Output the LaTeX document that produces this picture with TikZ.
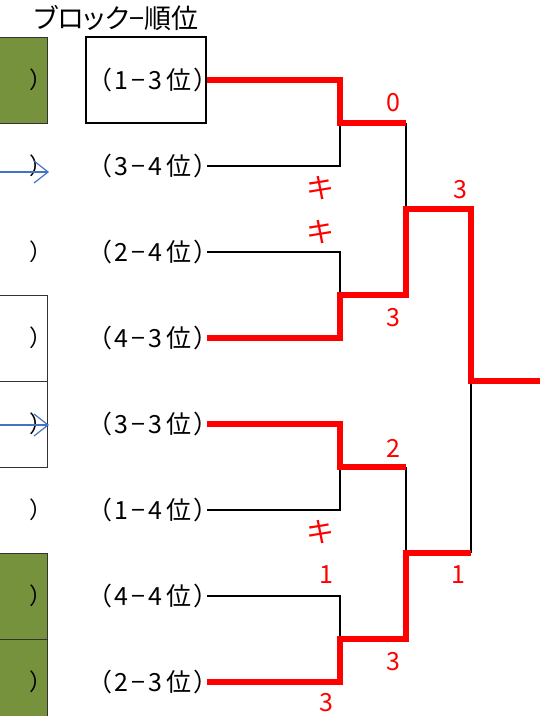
\documentclass[tikz,border=0pt]{standalone}
\usepackage{fontspec}
\setmainfont{Noto Sans CJK JP}
\newfontfamily\jpp{Noto Sans CJK JP}[RawFeature=+palt]
\newfontfamily\jpl{Noto Sans CJK JP}[RawFeature=+palt,LetterSpace=13]
\usetikzlibrary{arrows.meta}
\definecolor{olive}{RGB}{118,146,60}
\definecolor{arrowblue}{RGB}{68,114,196}
\tikzset{
  lbl/.style={anchor=east,inner xsep=0pt,inner ysep=0pt,font=\jpl\fontsize{25}{25}\selectfont},
  paren/.style={inner sep=0pt,font=\jpp\fontsize{23}{23}\selectfont},
  win/.style={draw=red,line width=6pt,line join=miter},
  lose/.style={draw=black,line width=2.2pt},
  score/.style={text=red,inner sep=0pt,font=\fontsize{25}{25}\selectfont},
  kiken/.style={text=red,inner sep=0pt,font=\fontsize{28}{28}\selectfont},
  leftbox/.style={draw=black!80,line width=0.8pt},
  blueArrow/.style={draw=arrowblue,line width=1.2pt,-{Straight Barb[length=14pt,width=22pt,line width=1.2pt]}}
}
\begin{document}
\begin{tikzpicture}[x=1pt,y=-1pt]
\useasboundingbox (0,0) rectangle (546,716);
% left boxes
\draw[leftbox,fill=olive] (-3,37) rectangle (47,123);
\draw[leftbox] (-3,295) rectangle (47,381);
\draw[leftbox] (-3,381) rectangle (47,467);
\draw[leftbox,fill=olive] (-3,553) rectangle (47,639);
\draw[leftbox,fill=olive] (-3,639) rectangle (47,720);
% left parens
\foreach \i/\y in {1/80,2/166,3/252,4/338,5/424,6/510,7/596,8/682}
  \node[paren] (p\i) at (36,\y) {）};
% blue arrows
\coordinate (aS1) at (0,172); \coordinate (aE1) at (49,172);
\coordinate (aS2) at (0,425); \coordinate (aE2) at (49,425);
\draw[blueArrow] (aS1) -- (aE1);
\draw[blueArrow] (aS2) -- (aE2);
% title
\node[inner sep=0pt,font=\jpp\fontsize{27}{27}\selectfont] (title) at (116,18) {ブロック−順位};
% box around first label
\node[draw=black,line width=2.2pt,minimum width=120pt,minimum height=86pt,inner sep=0pt] (box1) at (146,80) {};
% labels
\node[lbl] (l1) at (207,80) {（1−3位）};
\node[lbl] (l2) at (207,166) {（3−4位）};
\node[lbl] (l3) at (207,252) {（2−4位）};
\node[lbl] (l4) at (207,338) {（4−3位）};
\node[lbl] (l5) at (207,424) {（3−3位）};
\node[lbl] (l6) at (207,510) {（1−4位）};
\node[lbl] (l7) at (207,596) {（4−4位）};
\node[lbl] (l8) at (207,682) {（2−3位）};
% bracket coordinates
\coordinate (m1) at (340,123); \coordinate (m1r) at (406,123);
\coordinate (m2) at (340,295); \coordinate (m2r) at (406,295);
\coordinate (m3) at (340,467); \coordinate (m3r) at (406,467);
\coordinate (m4) at (340,639); \coordinate (m4r) at (406,639);
\coordinate (s1) at (406,209); \coordinate (s1r) at (471,209);
\coordinate (s2) at (406,553); \coordinate (s2r) at (471,553);
\coordinate (f) at (471,381); \coordinate (fr) at (540,381);
% losing (black) lines
\draw[lose] (l2.east) -- (340,166) -- (m1);
\draw[lose] (l3.east) -- (340,252) -- (m2);
\draw[lose] (l6.east) -- (340,510) -- (m3);
\draw[lose] (l7.east) -- (340,596) -- (m4);
\draw[lose] (m1r) -- (s1);
\draw[lose] (m3r) -- (s2);
\draw[lose] (s2r) -- (f);
% winning (red) lines
\draw[win] (box1.east) -- (340,80) -- (m1) -- (m1r);
\draw[win] (l4.east) -- (340,338) -- (m2) -- (m2r) -- (s1) -- (s1r) -- (f) -- (fr);
\draw[win] (l5.east) -- (340,424) -- (m3) -- (m3r);
\draw[win] (l8.east) -- (340,682) -- (m4) -- (m4r) -- (s2) -- (s2r);
% scores
\node[score] (sc1) at (393,103) {0};
\node[score] (sc2) at (393,318) {3};
\node[score] (sc3) at (460,190) {3};
\node[score] (sc4) at (393,448) {2};
\node[score] (sc5) at (326,575) {1};
\node[score] (sc6) at (393,662) {3};
\node[score] (sc7) at (326,703) {3};
\node[score] (sc8) at (458,575) {1};
% kiken marks
\node[kiken] (k1) at (320,188) {キ};
\node[kiken] (k2) at (320,232) {キ};
\node[kiken] (k3) at (320,532) {キ};
\end{tikzpicture}
\end{document}
